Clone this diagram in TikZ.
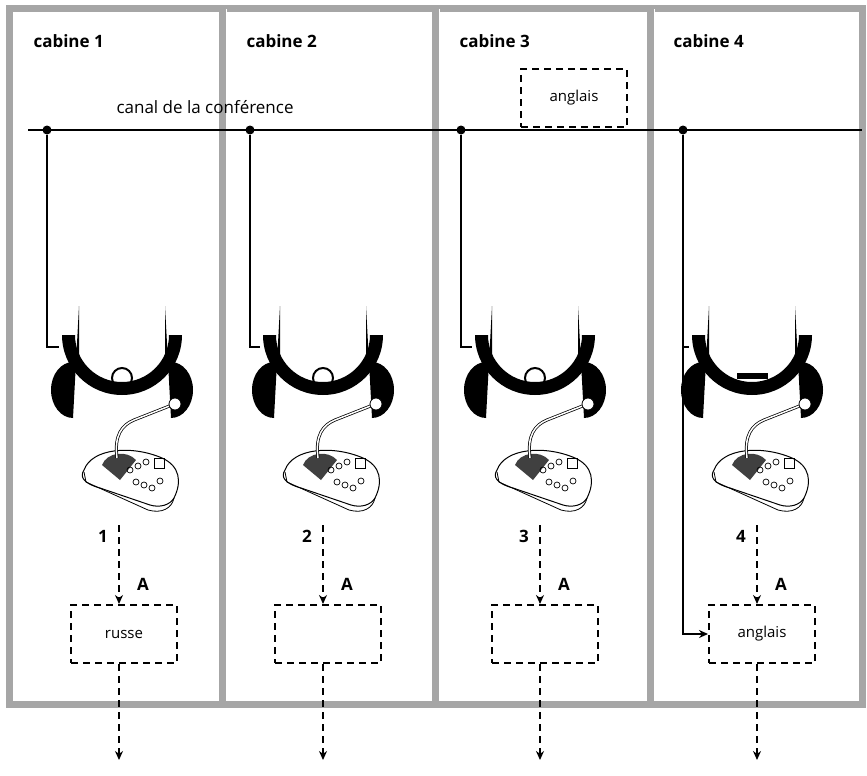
\documentclass[tikz,border=0pt]{standalone}
\usepackage{fontspec}
\setmainfont{Open Sans}
\usetikzlibrary{arrows.meta}
\begin{document}
\begin{tikzpicture}[x=1pt,y=-1pt,
  frame/.style={draw=black!35,line width=7pt},
  wire/.style={line width=1.6pt},
  dsh/.style={line width=2pt,dash pattern=on 7pt off 5pt},
  dbox/.style={draw,dsh,minimum width=106pt,minimum height=58pt,font=\fontsize{15}{18}\selectfont},
  lab/.style={font=\fontsize{17}{20}\selectfont\bfseries,anchor=base west},
  num/.style={font=\fontsize{17}{20}\selectfont\bfseries},
  dot/.style={circle,fill,inner sep=0pt,minimum size=9pt},
  arr/.style={-{Stealth[length=9pt,width=8pt]}}]
\useasboundingbox (0,0) rectangle (867,776);
% cabins
\foreach \a/\b in {9/222,222/435,435/650,650/862}
  \draw[frame] (\a,9) rectangle (\b,704);
\draw[white,line width=1pt] (226,9) -- (226,701) (439,9) -- (439,701) (654,9) -- (654,701);
% labels
\node[lab] (l1) at (30,48) {cabine 1};
\node[lab] (l2) at (243,48) {cabine 2};
\node[lab] (l3) at (456,48) {cabine 3};
\node[lab] (l4) at (670,48) {cabine 4};
\node[lab,font=\fontsize{17}{20}\selectfont] (cc) at (113,113) {canal de la conférence};
\node[dbox,minimum height=58pt] (en3) at (574,98) {anglais};
% conference line
\coordinate (c0) at (28,130);
\coordinate (c9) at (862,130);
\draw[wire] (c0) -- (c9);
% per cabin
\foreach \i/\c/\d/\ax in {1/122/47/119,2/323/250/323,3/535/461/540,4/752/683/757}{
  \node[dot] (d\i) at (\d,130) {};
  % headphone band
  \fill (\c-60,335) arc[start angle=180,end angle=0,radius=60] -- (\c+47,335) arc[start angle=0,end angle=180,radius=47] -- cycle;
  % ear cups
  \fill (\c-43,306) -- (\c-43,362) -- (\c-49,362) arc[start angle=270,end angle=90,x radius=22,y radius=28] -- cycle;
  \fill (\c+43,306) -- (\c+43,362) -- (\c+49,362) arc[start angle=-90,end angle=90,x radius=22,y radius=28] -- cycle;
  \coordinate (e\i) at (\c-63,347);
  % microphone
  \begin{scope}[shift={(\c,0)}]
    \draw[line width=1pt,fill=white] (-38,470) .. controls (-30,448) and (10,445) .. (40,458) .. controls (58,466) and (60,482) .. (52,498) .. controls (48,505) and (38,508) .. (28,505) -- (-22,488) .. controls (-40,483) and (-42,476) .. (-38,470) -- cycle;
    \draw[line width=0.8pt] (-38,472) -- (-36,482) -- (26,510) .. controls (40,514) and (50,508) .. (52,498);
    \fill[black!75] (-20,465) .. controls (-15,452) and (5,450) .. (14,460) -- (-2,480) -- cycle;
    \draw[line width=3pt] (-5,458) .. controls (-8,435) and (0,425) .. (12,420) -- (50,405);
    \draw[line width=1.5pt,white] (-5,458) .. controls (-8,435) and (0,425) .. (12,420) -- (50,405);
    \draw[line width=0.8pt,fill=white] (53,404) circle[radius=6];
    \foreach \x/\y in {8/470,16/466,24/462,14/482,22/485,30/488,38/481}
      \draw[line width=0.7pt] (\x,\y) circle[radius=3];
    \draw[line width=0.8pt] (32,458) rectangle (42,468);
  \end{scope}
  \coordinate (m\i) at (\ax,525);
  \node[dbox] (b\i) at (\ax+5,634) {};
  \coordinate (o\i) at (\ax,760);
  \draw[dsh,arr] (m\i) -- (m\i |- b\i.north);
  \draw[dsh,arr] (o\i |- b\i.south) -- (o\i);
  \node[num] (n\i) at (\ax-16,536) {\i};
  \node[num] (a\i) at (\ax+24,584) {A};
}
\node[font=\fontsize{15}{18}\selectfont] at (b1) {russe};
\node[font=\fontsize{15}{18}\selectfont] at (b4) {anglais};
% listening circles
\foreach \c in {122,323,535} \draw[line width=2pt] (\c,378) circle[radius=10];
\fill (737,373) rectangle (768,379);
% wires to headphones
\draw[wire] (d1) |- (e1);
\draw[wire] (d2) |- (e2);
\draw[wire] (d3) |- (e3);
\draw[wire] (d4) |- (e4);
\draw[wire,arr] (d4) |- (b4.west);
\end{tikzpicture}
\end{document}
